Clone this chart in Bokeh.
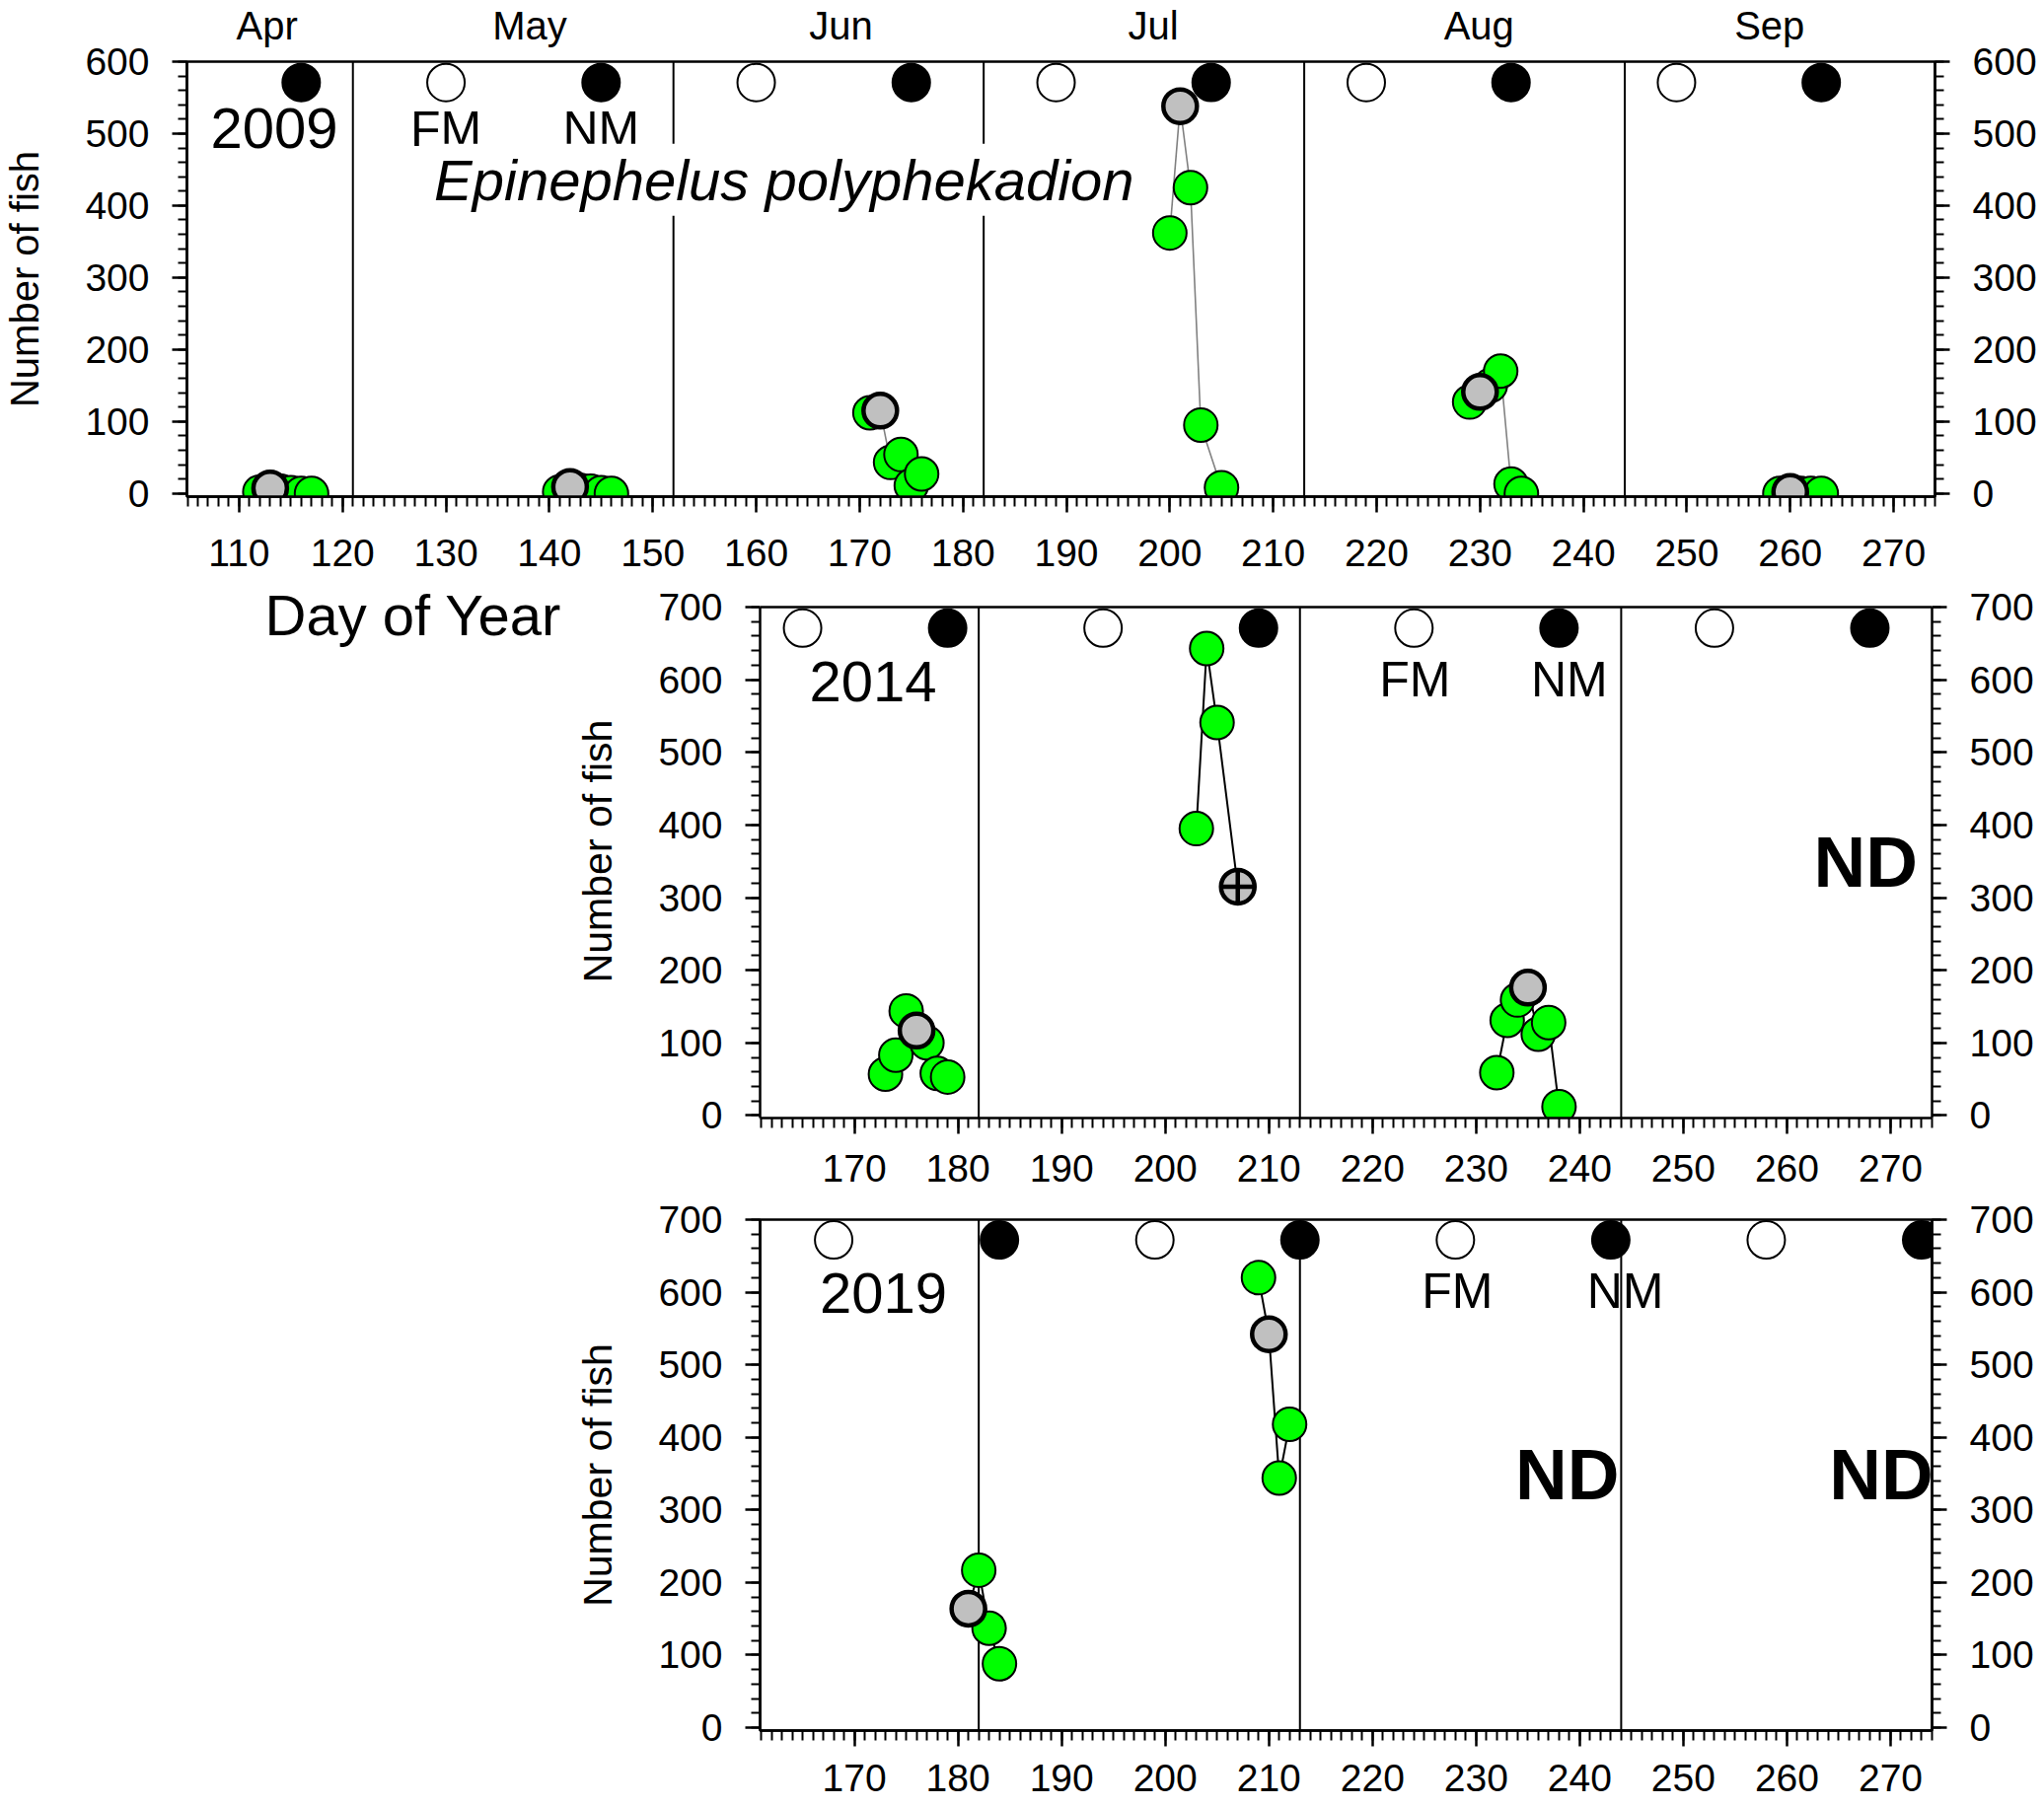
from bokeh.plotting import figure
from bokeh.models import (Label, Span, LinearAxis, SingleIntervalTicker, Range1d,
                          Spacer, FixedTicker)
from bokeh.layouts import column, row
from bokeh.embed import file_html
from bokeh.resources import INLINE

FONT = "Liberation Sans"
GREEN = "#00ff00"
GRAY = "#c0c0c0"

# ---------------- data ----------------
MONTH_NAMES = ["Apr", "May", "Jun", "Jul", "Aug", "Sep"]
MONTH_LABEL_DAYS = [112.7, 138.1, 168.2, 198.4, 229.9, 258.0]
MONTH_BOUNDS_2009 = [121, 152, 182, 213, 244]
MONTH_BOUNDS_LATER = [182, 213, 244]

FM_2009 = [130, 160, 189, 219, 249]
NM_2009 = [116, 145, 175, 204, 233, 263]
FM_2014 = [165, 194, 224, 253]
NM_2014 = [179, 209, 238, 268]
FM_2019 = [168, 199, 228, 258]
NM_2019 = [184, 213, 243, 273]

# kind: g = daily count, m = highlighted day (grey), x = grey with cross
DAY_2009 = [112, 113, 114, 115, 116, 117,
            141, 142, 143, 144, 145, 146,
            171, 172, 173, 174, 175, 176,
            200, 201, 202, 203, 205,
            229, 230, 231, 232, 233, 234,
            259, 260, 261, 262, 263]
FISH_2009 = [2, 7, 3, 1, 0, 0,
             2, 9, 4, 3, 1, 0,
             112, 115, 43, 54, 11, 27,
             362, 538, 425, 95, 8,
             127, 141, 150, 170, 13, 0,
             0, 2, 0, 0, 0]
KIND_2009 = ["g", "m", "g", "g", "g", "g",
             "g", "m", "g", "g", "g", "g",
             "g", "m", "g", "g", "g", "g",
             "g", "m", "g", "g", "g",
             "g", "m", "g", "g", "g", "g",
             "g", "m", "g", "g", "g"]
BOUT_2009 = [1] * 6 + [2] * 6 + [3] * 6 + [4] * 5 + [5] * 6 + [6] * 5

DAY_2014 = [173, 174, 175, 176, 177, 178, 179,
            203, 204, 205, 207,
            232, 233, 234, 235, 236, 237, 238]
FISH_2014 = [57, 83, 144, 117, 100, 58, 53,
             395, 643, 541, 315,
             59, 131, 159, 176, 112, 128, 12]
KIND_2014 = ["g", "g", "g", "m", "g", "g", "g",
             "g", "g", "g", "x",
             "g", "g", "g", "m", "g", "g", "g"]
BOUT_2014 = [1] * 7 + [2] * 4 + [3] * 7

DAY_2019 = [181, 182, 183, 184,
            209, 210, 211, 212]
FISH_2019 = [164, 217, 137, 88,
             620, 542, 344, 418]
KIND_2019 = ["m", "g", "g", "g",
             "g", "m", "g", "g"]
BOUT_2019 = [1] * 4 + [2] * 4


# ---------------- helpers ----------------
def make_panel(width, height, xr, yr, mb_left, mb_right, mb_top, mb_bottom,
               x_standoff, ylabel_standoff, ylabel_size, ytop=None):
    p = figure(width=width, height=height, title=None,
               x_range=Range1d(*xr), y_range=Range1d(*yr),
               output_backend="svg", toolbar_location=None,
               min_border_left=mb_left, min_border_right=mb_right,
               min_border_top=mb_top, min_border_bottom=mb_bottom)
    p.xgrid.visible = False
    p.ygrid.visible = False
    p.background_fill_color = "white"
    p.border_fill_color = "white"
    if ytop is None:
        p.outline_line_color = "black"
        p.outline_line_width = 2.5
        p.outline_line_alpha = 1.0
    else:
        p.outline_line_color = None
        p.add_layout(Span(location=ytop, dimension="width", line_color="black",
                          line_width=2.5))

    p.xaxis.ticker = SingleIntervalTicker(interval=10, num_minor_ticks=10)
    p.yaxis.ticker = SingleIntervalTicker(interval=100, num_minor_ticks=5)
    p.yaxis.axis_label = "Number of fish"
    p.yaxis.axis_label_text_font = FONT
    p.yaxis.axis_label_text_font_style = "normal"
    p.yaxis.axis_label_text_font_size = ylabel_size
    p.yaxis.axis_label_text_color = "black"
    p.yaxis.axis_label_standoff = ylabel_standoff

    right = LinearAxis(ticker=SingleIntervalTicker(interval=100, num_minor_ticks=5))
    p.add_layout(right, "right")

    for ax in p.xaxis + p.yaxis:
        ax.axis_line_width = 2.5
        ax.axis_line_color = "black"
        ax.major_tick_line_width = 2.5
        ax.major_tick_line_color = "black"
        ax.minor_tick_line_width = 2
        ax.minor_tick_line_color = "black"
        ax.major_tick_in = 0
        ax.minor_tick_in = 0
        ax.major_tick_out = 15
        ax.minor_tick_out = 9
        ax.major_label_text_font = FONT
        ax.major_label_text_font_size = "39px"
        ax.major_label_text_color = "black"
        ax.major_label_standoff = 23
    if ytop is not None:
        for ax in p.yaxis:
            ax.bounds = (yr[0], ytop)
    for ax in p.xaxis:
        ax.major_tick_out = 16
        ax.minor_tick_out = 10
        ax.major_label_standoff = x_standoff
    return p


def add_bounds(p, bounds):
    for b in bounds:
        p.add_layout(Span(location=b, dimension="height", line_color="black",
                          line_width=2, level="underlay"))


def add_bound_segments(p, bounds, y0, y1):
    p.segment(x0=bounds, y0=[y0] * len(bounds), x1=bounds, y1=[y1] * len(bounds),
              line_color="black", line_width=2)


def add_moons(p, fm, nm, y):
    p.scatter(fm, [y] * len(fm), size=38, fill_color="white",
              line_color="black", line_width=2)
    p.scatter(nm, [y] * len(nm), size=38, fill_color="black",
              line_color="black", line_width=2)


def add_counts(p, days, fish, kinds, bouts, line_color, line_width):
    for b in sorted(set(bouts)):
        idx = sorted([i for i in range(len(days)) if bouts[i] == b],
                     key=lambda i: days[i])
        p.line([days[i] for i in idx], [fish[i] for i in idx],
               line_color=line_color, line_width=line_width)
    order = sorted(range(len(days)), key=lambda i: days[i])
    g = [i for i in order if kinds[i] == "g"]
    m = [i for i in order if kinds[i] == "m"]
    x = [i for i in order if kinds[i] == "x"]
    p.scatter([days[i] for i in g], [fish[i] for i in g], size=34,
              fill_color=GREEN, line_color="black", line_width=2)
    if m:
        p.scatter([days[i] for i in m], [fish[i] for i in m], size=34,
                  fill_color=GRAY, line_color="black", line_width=4.5)
    if x:
        p.scatter([days[i] for i in x], [fish[i] for i in x], size=34,
                  marker="circle_cross", fill_color=GRAY,
                  line_color="black", line_width=4.5)


def text(p, x, y, s, size, style="normal", bg=None):
    kw = {}
    if bg is not None:
        kw = dict(background_fill_color=bg, background_fill_alpha=1.0, padding=4)
    p.add_layout(Label(x=x, y=y, text=s, text_font=FONT,
                       text_font_size=size, text_font_style=style,
                       text_color="black", text_align="center",
                       text_baseline="middle", **kw))


# ---------------- 2009 panel ----------------
top = make_panel(2072, 592, (104.95, 274.0), (-4.5, 600),
                 185, 111, 60, 89, 27, 36, "40px")
months = LinearAxis(ticker=FixedTicker(ticks=MONTH_LABEL_DAYS, minor_ticks=[]),
                    major_label_overrides={d: n for d, n in zip(MONTH_LABEL_DAYS, MONTH_NAMES)})
months.axis_line_color = None
months.major_tick_line_color = None
months.minor_tick_line_color = None
months.major_tick_out = 0
months.major_tick_in = 0
months.major_label_standoff = 15
months.major_label_text_font = FONT
months.major_label_text_font_size = "40px"
months.major_label_text_color = "black"
top.add_layout(months, "above")

add_bounds(top, MONTH_BOUNDS_2009)
add_moons(top, FM_2009, NM_2009, 571)
add_counts(top, DAY_2009, FISH_2009, KIND_2009, BOUT_2009, "#808080", 1.6)
text(top, 113.4, 507.8, "2009", "58px")
text(top, 130, 505.6, "FM", "50px")
text(top, 145, 505.6, "NM", "50px")
text(top, 162.7, 436, "Epinephelus polyphekadion", "58px", "italic", bg="white")

# ---------------- 2014 panel ----------------
# frame extends 23 px above the 700 line so that the caption beside it can sit high
mid = make_panel(1502, 622, (160.9, 274.0), (-3.5, 731.2),
                 200, 114, 0, 81, 21, 35, "41px", ytop=700)
add_bound_segments(mid, MONTH_BOUNDS_LATER, -3.5, 700)
add_moons(mid, FM_2014, NM_2014, 671)
add_counts(mid, DAY_2014, FISH_2014, KIND_2014, BOUT_2014, "black", 2)
text(mid, 171.8, 596.9, "2014", "58px")
text(mid, 224.1, 599.8, "FM", "50px")
text(mid, 239.0, 599.8, "NM", "50px")
text(mid, 267.6, 350, "ND", "73px", "bold")

# ---------------- 2019 panel ----------------
bot = make_panel(1502, 618, (160.9, 274.0), (-4, 700),
                 200, 114, 22, 78, 18, 35, "41px")
add_bounds(bot, MONTH_BOUNDS_LATER)
add_moons(bot, FM_2019, NM_2019, 672)
add_counts(bot, DAY_2019, FISH_2019, KIND_2019, BOUT_2019, "black", 2)
text(bot, 172.8, 599.4, "2019", "58px")
text(bot, 228.2, 601.3, "FM", "50px")
text(bot, 244.4, 601.3, "NM", "50px")
text(bot, 238.8, 350, "ND", "73px", "bold")
text(bot, 269.1, 350, "ND", "73px", "bold")

# ---------------- "Day of Year" caption ----------------
cap = figure(width=570, height=622, title=None,
             x_range=Range1d(0, 570), y_range=Range1d(0, 541),
             output_backend="svg", toolbar_location=None,
             x_axis_type=None, y_axis_type=None,
             min_border_left=0, min_border_right=0, min_border_top=0, min_border_bottom=81)
cap.xgrid.visible = False
cap.ygrid.visible = False
cap.outline_line_color = None
cap.border_fill_color = "white"
text(cap, 418.5, 509.7, "Day of Year", "58px")

layout = column(top,
                row(cap, mid, spacing=0),
                row(Spacer(width=570, height=618), bot, spacing=0),
                spacing=0)

open("out.html", "w").write(file_html(layout, INLINE))
